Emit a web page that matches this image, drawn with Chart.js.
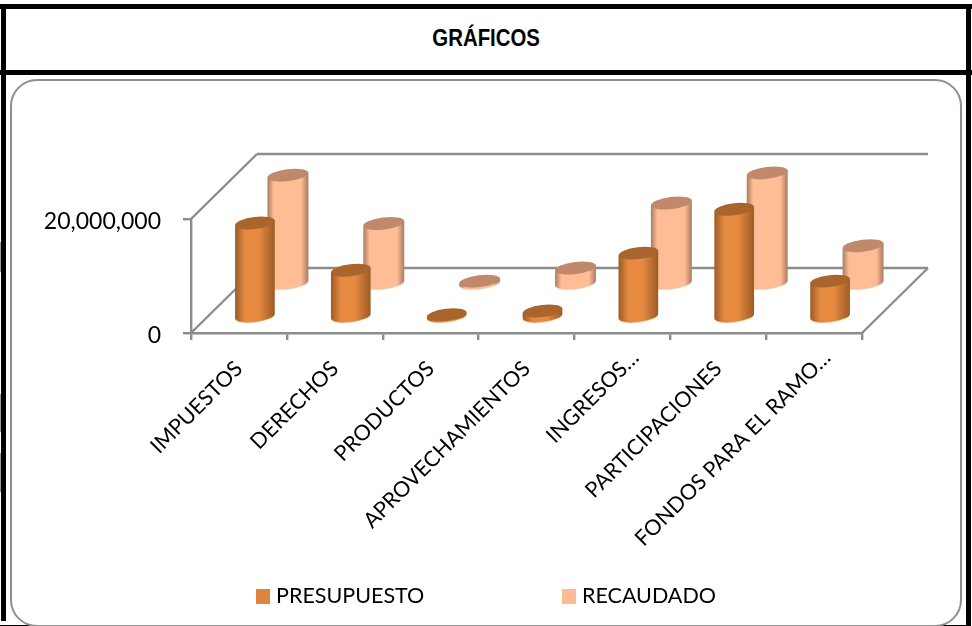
<!DOCTYPE html>
<html><head><meta charset="utf-8">
<script src="https://cdn.jsdelivr.net/npm/chart.js@4"></script>
<style>
html,body{margin:0;padding:0;background:#fff;width:972px;height:626px;overflow:hidden}
canvas{position:absolute;left:0;top:0}
#t{position:absolute;left:0;right:0;top:24px;text-align:center;font:bold 24px/28px "Liberation Sans",sans-serif;color:#000;transform:scaleX(.85);transform-origin:487px 0}
.b{position:absolute;background:#000}
.g{position:absolute;background:#999;left:0;width:1px}
#frame{position:absolute;left:10px;top:79px;width:948px;height:544px;border:2.4px solid #8f8f8f;border-radius:27px}
</style></head><body>
<div class="b" style="left:0;top:4px;width:972px;height:5px"></div>
<div class="b" style="left:0;top:70px;width:972px;height:5px"></div>
<div class="b" style="left:1px;top:4px;width:5px;height:617px"></div>
<div class="b" style="left:966px;top:4px;width:5px;height:622px"></div>
<div class="b" style="left:0;top:624.5px;width:966px;height:1.5px"></div>
<div class="g" style="top:242px;height:30px"></div>
<div class="g" style="top:394px;height:38px"></div>
<div class="g" style="top:453px;height:39px"></div>
<div id="frame"></div>
<div id="t">GRÁFICOS</div>
<canvas id="c" width="972" height="626"></canvas>
<script>
const categories=["IMPUESTOS","DERECHOS","PRODUCTOS","APROVECHAMIENTOS","INGRESOS…","PARTICIPACIONES","FONDOS PARA EL RAMO…"];
const presupuesto=[16500000,8200000,400000,1050000,11200000,18900000,6300000];
const recaudado=[19100000,10600000,500000,2800000,14200000,19500000,6700000];
const yTicks=[0,20000000];
const seriesNames=["PRESUPUESTO","RECAUDADO"];
const legendColors=["#dd8440","#ffb994"];
const depthShift=[16,49];
const wallDepth=[66,65];
const grey="#8c8c8c";
const palettes=[
 {edge:"#9c5a26",mid:"#e58a40",top:"#a9652c",rim:"#f4b98c",s1:.25,s2:.6},
 {edge:"#a87a60",mid:"#ffbd96",top:"#c0896b",rim:"#ffd2b8",s1:.16,s2:.82}
];
let currentDataset=0;
Chart.BarElement.prototype.draw=function(ctx){
  const di=currentDataset,s=depthShift[di],p=palettes[di];
  const cx=this.x+s,ty=this.y-s,by=this.base-s,rx=this.width/2,ry=6,rot=-0.12;
  const dx=rx*Math.cos(rot),dy=rx*Math.sin(rot);
  ctx.save();
  const g=ctx.createLinearGradient(cx-rx,0,cx+rx,0);
  g.addColorStop(0,p.edge);g.addColorStop(p.s1,p.mid);g.addColorStop(p.s2,p.mid);g.addColorStop(1,p.edge);
  ctx.fillStyle=p.rim;
  ctx.beginPath();ctx.ellipse(cx,by+0.8,rx,ry,rot,0,Math.PI*2);ctx.fill();
  ctx.fillStyle=g;
  ctx.beginPath();
  ctx.moveTo(cx-dx,ty-dy);
  ctx.lineTo(cx-dx,by-dy);
  ctx.ellipse(cx,by,rx,ry,rot,Math.PI,0,true);
  ctx.lineTo(cx+dx,ty+dy);
  ctx.closePath();ctx.fill();
  ctx.fillStyle=p.top;
  ctx.beginPath();ctx.ellipse(cx,ty,rx,ry,rot,0,Math.PI*2);ctx.fill();
  ctx.restore();
};
const lato='Lato,"Noto Sans",sans-serif';
const walls={id:"walls",
 beforeDraw(ch){
  const x=ch.scales.x,y=ch.scales.y;
  y.getLabelItems().forEach(it=>{it.options.translation[1]+=3;});
  x.getLabelItems().forEach(it=>{
    const t=String(it.label);
    if(t.endsWith("…")){it.options.translation[0]+=13;it.options.translation[1]-=11;}
  });
 },
 beforeDatasetsDraw(ch){
  const {ctx}=ch,x=ch.scales.x,y=ch.scales.y;
  const L=x.left,R=x.right,T=y.top,B=y.bottom,dx=wallDepth[0],dy=wallDepth[1];
  ctx.save();ctx.strokeStyle=grey;ctx.lineWidth=2.4;
  const seg=(a,b,c,d)=>{ctx.beginPath();ctx.moveTo(a,b);ctx.lineTo(c,d);ctx.stroke();};
  seg(L,T,L+dx,T-dy);seg(L,B,L+dx,B-dy);
  seg(L+dx,T-dy,R+dx,T-dy);seg(L+dx,B-dy,R+dx,B-dy);
  seg(R,B,R+dx,B-dy);
  ctx.restore();
 },
 beforeDatasetDraw(ch,args){currentDataset=args.index;},
 afterDraw(ch){
  const {ctx}=ch,swatchX=[256,562];
  ctx.save();ctx.font='21.5px '+lato;ctx.textBaseline="middle";ctx.textAlign="left";
  seriesNames.forEach((n,i)=>{
    ctx.fillStyle=legendColors[i];ctx.fillRect(swatchX[i],589,14,15);
    ctx.fillStyle="#000";ctx.fillText(n,swatchX[i]+20,596.5);
  });
  ctx.restore();
 }};
new Chart(document.getElementById("c"),{
 type:"bar",
 data:{labels:categories,datasets:[
  {label:seriesNames[0],data:presupuesto,backgroundColor:legendColors[0],barPercentage:.417,categoryPercentage:1,grouped:false,clip:false},
  {label:seriesNames[1],data:recaudado,backgroundColor:legendColors[1],barPercentage:.43,categoryPercentage:1,grouped:false,clip:false}
 ]},
 plugins:[walls],
 options:{
  responsive:false,animation:false,devicePixelRatio:1,
  layout:{padding:{left:0,right:110,top:219,bottom:0}},
  plugins:{legend:{display:false},tooltip:{enabled:false},title:{display:false}},
  scales:{
   x:{afterFit(a){a.height=293;},
      grid:{drawOnChartArea:false,offset:true,color:grey,lineWidth:2.4,tickLength:7},border:{color:grey,width:2.4},
      ticks:{color:"#000",font:{family:lato,size:21.5},maxRotation:45,minRotation:45,autoSkip:false,padding:16}},
   y:{min:0,max:20000000,afterFit(a){a.width=191;},afterBuildTicks(a){a.ticks=yTicks.map(v=>({value:v}));},
      grid:{drawOnChartArea:false,color:grey,lineWidth:2.4,tickLength:8},border:{color:grey,width:2.4},
      ticks:{color:"#000",font:{family:lato,size:23},padding:22,callback:v=>v.toLocaleString("en-US")}}
  }
 }
});
</script>
</body></html>
